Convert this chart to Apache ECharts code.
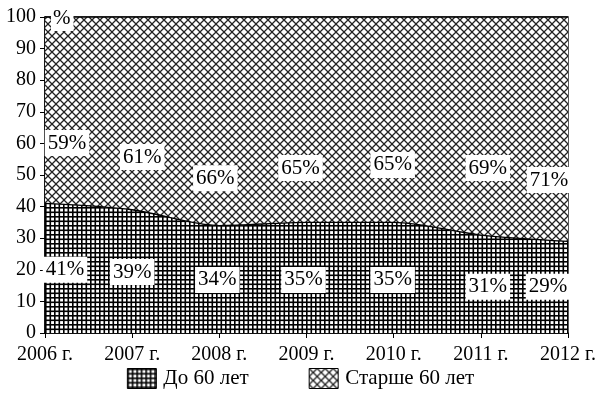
<!DOCTYPE html>
<html>
<head>
<meta charset="utf-8">
<script src="https://cdn.jsdelivr.net/npm/echarts@6/dist/echarts.min.js"></script>
<style>html,body{margin:0;padding:0;background:#fff}#c{width:601px;height:401px}</style>
</head>
<body>
<div id="c"></div>
<script>
const categories = ['2006 г.', '2007 г.', '2008 г.', '2009 г.', '2010 г.', '2011 г.', '2012 г.'];
const under60 = [41, 39, 34, 35, 35, 31, 29];
const over60 = [59, 61, 66, 65, 65, 69, 71];
const yTicks = [0, 10, 20, 30, 40, 50, 60, 70, 80, 90, 100];
const seriesNames = ['До 60 лет', 'Старше 60 лет'];

// label anchors (layout only)
const lowLabelY = [20, 19.3, 16.8, 16.8, 16.8, 14.6, 14.6];
const highLabelY = [60.1, 55.7, 49, 52.2, 53.2, 52.2, 48.4];
const lowDx = [20, 0, -2, -3, -1, 7, -20];
const highDx = [22, 10, -4, -6, -1, 7, -19];

function gridPattern() {
  const c = document.createElement('canvas');
  c.width = 9; c.height = 9;
  const g = c.getContext('2d');
  g.fillStyle = '#fff'; g.fillRect(0, 0, 9, 9);
  g.fillStyle = '#000';
  g.fillRect(0, 0, 1.6, 9); g.fillRect(4.5, 0, 1.6, 9);
  g.fillRect(0, 0, 9, 1.6); g.fillRect(0, 4.5, 9, 1.6);
  return c;
}
function crossPattern() {
  const c = document.createElement('canvas');
  c.width = 8; c.height = 8;
  const g = c.getContext('2d');
  g.fillStyle = '#fff'; g.fillRect(0, 0, 8, 8);
  g.strokeStyle = '#222'; g.lineWidth = 1.3;
  g.beginPath();
  g.moveTo(-1, -1); g.lineTo(9, 9);
  g.moveTo(-1, 9); g.lineTo(9, -1);
  g.stroke();
  return c;
}
const pLow = { image: gridPattern(), repeat: 'repeat' };
const pHigh = { image: crossPattern(), repeat: 'repeat' };

const font = 'Liberation Serif';
const labelStyle = {
  show: true, color: '#000', fontFamily: font, fontSize: 21, opacity: 1,
  backgroundColor: '#fff', padding: [3, 3, 2, 3], position: 'inside'
};

function labelData(ys, vals, dxs) {
  return ys.map((y, i) => ({
    value: [i, y],
    label: Object.assign({}, labelStyle, { formatter: vals[i] + '%', offset: [dxs[i], 0] })
  }));
}

const chart = echarts.init(document.getElementById('c'), null, { renderer: 'canvas' });
chart.setOption({
  animation: false,
  backgroundColor: '#fff',
  grid: { left: 45, right: 33, top: 17, bottom: 68, show: true, borderColor: '#000', borderWidth: 1.3, backgroundColor: 'transparent' },
  legend: {
    bottom: 7, left: 'center', itemWidth: 29, itemHeight: 20, itemGap: 60,
    icon: 'rect',
    textStyle: { fontFamily: font, fontSize: 21, color: '#000', padding: [0, 0, 0, 2] },
    data: [
      { name: seriesNames[0], itemStyle: { color: pLow, borderColor: '#000', borderWidth: 1 } },
      { name: seriesNames[1], itemStyle: { color: pHigh, borderColor: '#000', borderWidth: 1 } }
    ]
  },
  xAxis: {
    type: 'category', data: categories, boundaryGap: false,
    axisLine: { lineStyle: { color: '#000', width: 1.5 } },
    axisTick: { show: true, length: 5, lineStyle: { color: '#000' } },
    axisLabel: { color: '#000', fontFamily: font, fontSize: 20, margin: 12 },
    splitLine: { show: false }
  },
  yAxis: {
    type: 'value', min: 0, max: 100, interval: 10,
    axisLine: { show: true, lineStyle: { color: '#000', width: 1.5 } },
    axisTick: { show: true, length: 5, lineStyle: { color: '#000' } },
    axisLabel: { color: '#000', fontFamily: font, fontSize: 20, margin: 9,
      formatter: v => yTicks.includes(v) ? String(v) : '' },
    splitLine: { show: false }
  },
  graphic: [{
    type: 'text', left: 51, top: 6, z: 100,
    style: { text: '%', fontFamily: font, fontSize: 21, fill: '#000', backgroundColor: '#fff', padding: [2, 3, 2, 2] }
  }],
  series: [
    {
      name: seriesNames[0], type: 'line', stack: 'total', data: under60, smooth: 0.3,
      symbol: 'none', lineStyle: { color: '#000', width: 1.3 },
      itemStyle: { color: pLow },
      areaStyle: { color: pLow, opacity: 1 }, z: 2
    },
    {
      name: seriesNames[1], type: 'line', stack: 'total', data: over60, smooth: 0.3,
      symbol: 'none', lineStyle: { color: '#000', width: 1.3 },
      itemStyle: { color: pHigh },
      areaStyle: { color: pHigh, opacity: 1 }, z: 1
    },
    {
      type: 'scatter', symbolSize: 0, silent: true, z: 10,
      itemStyle: { opacity: 1 },
      data: labelData(lowLabelY, under60, lowDx).concat(labelData(highLabelY, over60, highDx))
    }
  ]
});
</script>
</body>
</html>
